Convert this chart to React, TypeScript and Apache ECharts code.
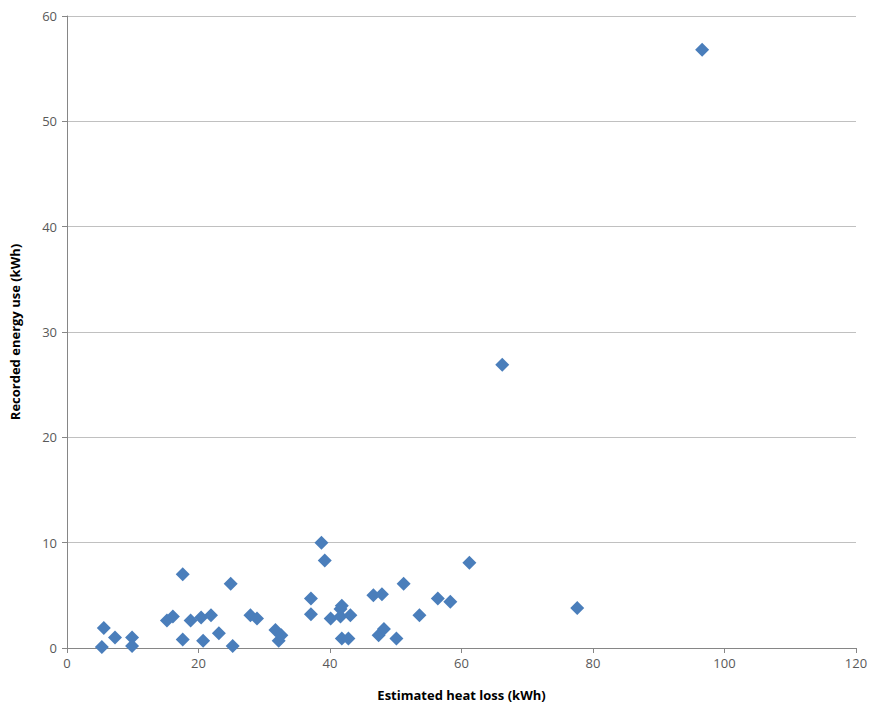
import { useEffect, useRef } from 'react';
import * as echarts from 'echarts';

// [estimated heat loss kWh, recorded energy use kWh]
const points: [number, number][] = [
  [5.3, 0.1], [5.6, 1.9], [7.3, 1.0], [9.9, 1.0], [9.9, 0.2],
  [15.2, 2.6], [16.1, 3.0], [17.6, 7.0], [17.6, 0.8], [18.8, 2.6],
  [20.4, 2.9], [21.9, 3.1], [20.7, 0.7], [23.1, 1.4], [24.9, 6.1],
  [25.2, 0.2], [27.9, 3.1], [28.9, 2.8], [31.7, 1.7], [32.2, 0.7],
  [32.6, 1.2], [37.1, 4.7], [37.1, 3.2], [38.7, 10.0], [39.2, 8.3],
  [40.1, 2.8], [41.6, 3.7], [41.8, 4.0], [41.6, 3.0], [41.8, 0.9],
  [42.8, 0.9], [43.1, 3.1], [46.6, 5.0], [47.9, 5.1], [47.4, 1.2],
  [48.2, 1.8], [50.1, 0.9], [51.2, 6.1], [53.6, 3.1], [56.4, 4.7],
  [58.3, 4.4], [61.2, 8.1], [66.2, 26.9], [77.6, 3.8], [96.6, 56.8],
];

const xTitle = 'Estimated heat loss (kWh)';
const yTitle = 'Recorded energy use (kWh)';

const App = () => {
  const chartRef = useRef<HTMLDivElement>(null);

  useEffect(() => {
    document.body.style.margin = '0';
    if (!chartRef.current) return;
    const chart = echarts.init(chartRef.current, undefined, { renderer: 'svg' });
    const font = 'Open Sans, Liberation Sans, sans-serif';
    chart.setOption({
      animation: false,
      textStyle: { fontFamily: font },
      grid: { left: 66, right: 17, top: 16, bottom: 56 },
      xAxis: {
        type: 'value',
        min: 0,
        max: 120,
        interval: 20,
        name: xTitle,
        nameLocation: 'middle',
        nameGap: 40,
        nameTextStyle: { fontWeight: 'bold', fontSize: 13, color: '#000', fontFamily: font },
        axisLine: { show: true, lineStyle: { color: '#868686' } },
        axisTick: { show: true, length: 5, lineStyle: { color: '#868686' } },
        axisLabel: { color: '#595959', fontSize: 13, margin: 8 },
        splitLine: { show: false },
      },
      yAxis: {
        type: 'value',
        min: 0,
        max: 60,
        interval: 10,
        name: yTitle,
        nameLocation: 'middle',
        nameGap: 46,
        nameTextStyle: { fontWeight: 'bold', fontSize: 13, color: '#000', fontFamily: font },
        axisLine: { show: true, lineStyle: { color: '#868686' } },
        axisTick: { show: true, length: 5, lineStyle: { color: '#868686' } },
        axisLabel: { color: '#595959', fontSize: 13, margin: 10 },
        splitLine: { lineStyle: { color: '#c0c0c0' } },
      },
      series: [
        {
          type: 'scatter',
          data: points,
          symbol: 'diamond',
          symbolSize: 14,
          itemStyle: { color: '#4a7ebb', opacity: 1 },
        },
      ],
    });
    return () => chart.dispose();
  }, []);

  return <div ref={chartRef} style={{ width: 873, height: 706 }} />;
};

export default App;
